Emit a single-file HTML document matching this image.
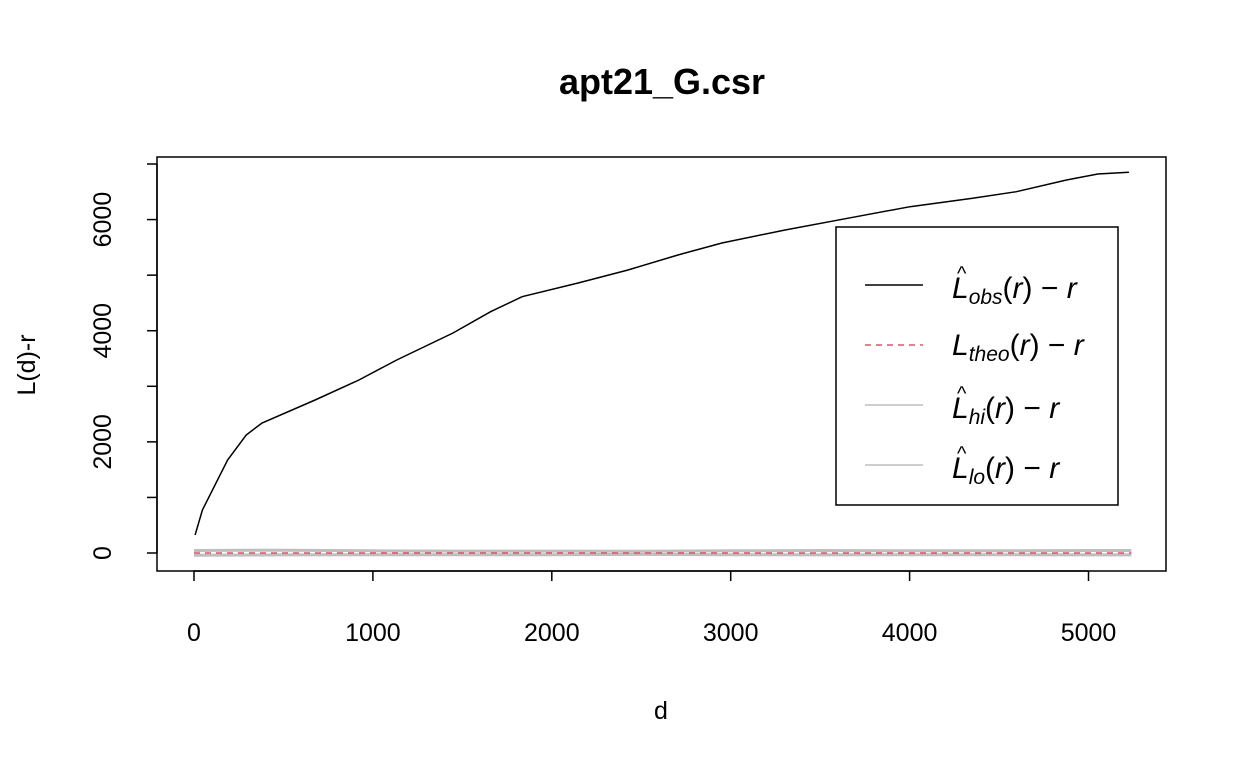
<!DOCTYPE html>
<html><head><meta charset="utf-8"><style>
body{margin:0;background:#fff}
svg text{font-family:"Liberation Sans",Arial,sans-serif}
</style></head><body>
<svg id="chart" width="1248" height="768" viewBox="0 0 1248 768" xmlns="http://www.w3.org/2000/svg">
<rect width="1248" height="768" fill="#fff"/>
<text x="662" y="94" text-anchor="middle" font-size="36" font-weight="bold">apt21_G.csr</text>
<text x="661" y="719" text-anchor="middle" font-size="25">d</text>
<text transform="translate(35,365) rotate(-90)" text-anchor="middle" font-size="25">L(d)-r</text>
<g id="series"></g>
<g id="axes"></g>
<rect x="157" y="157" width="1009" height="414" fill="none" stroke="#000" stroke-width="1.5"/>
<g>
<rect x="836" y="227" width="282" height="278" fill="#fff" stroke="#000" stroke-width="1.5"/>
<line x1="865" y1="285" x2="923" y2="285" stroke="#000" stroke-width="1.5"/>
<line x1="865" y1="345" x2="923" y2="345" stroke="#DF536B" stroke-width="1.5" stroke-dasharray="6,5"/>
<line x1="865" y1="405" x2="923" y2="405" stroke="#BEBEBE" stroke-width="1.5"/>
<line x1="865" y1="465" x2="923" y2="465" stroke="#BEBEBE" stroke-width="1.5"/>
<g font-size="30" font-style="italic">
<text x="952" y="298"><tspan x="957" y="280" font-size="20" font-style="normal">^</tspan><tspan x="952" y="298">L</tspan><tspan font-size="21" dy="6">obs</tspan><tspan dy="-6" font-style="normal">(</tspan>r<tspan font-style="normal">)</tspan><tspan font-style="normal"> − </tspan>r</text>
<text x="952" y="355">L<tspan font-size="21" dy="6">theo</tspan><tspan dy="-6" font-style="normal">(</tspan>r<tspan font-style="normal">)</tspan><tspan font-style="normal"> − </tspan>r</text>
<text x="952" y="418"><tspan x="957" y="400" font-size="20" font-style="normal">^</tspan><tspan x="952" y="418">L</tspan><tspan font-size="21" dy="6">hi</tspan><tspan dy="-6" font-style="normal">(</tspan>r<tspan font-style="normal">)</tspan><tspan font-style="normal"> − </tspan>r</text>
<text x="952" y="478"><tspan x="957" y="460" font-size="20" font-style="normal">^</tspan><tspan x="952" y="478">L</tspan><tspan font-size="21" dy="6">lo</tspan><tspan dy="-6" font-style="normal">(</tspan>r<tspan font-style="normal">)</tspan><tspan font-style="normal"> − </tspan>r</text>
</g>
</g>
</svg>
<script>
const obsD = [6,47,188,292,380,677,922,1133,1448,1658,1834,2147,2426,2705,2951,3304,3653,4002,4352,4597,4877,5052,5226];
const obsV = [324,774,1674,2123,2340,2753,3113,3473,3959,4342,4612,4858,5093,5363,5579,5812,6023,6232,6383,6502,6712,6820,6851];
const envD = [0,500,1000,1500,2000,2500,3000,3500,4000,4500,5000,5240];
const hiV = [45,50,40,35,35,30,40,45,40,40,45,45];
const loV = [-40,-35,-30,-30,-30,-25,-30,-35,-30,-30,-35,-35];
const xTicks = [0,1000,2000,3000,4000,5000];
const yTicks = [0,1000,2000,3000,4000,5000,6000,7000];
const yLabels = ["0","","2000","","4000","","6000",""];

const NS = "http://www.w3.org/2000/svg";
const X = d => 194 + d * 0.1789;
const Y = v => 553 - v * 0.05557;
const ser = document.getElementById('series');
const ax = document.getElementById('axes');
function mk(tag, attrs, parent){const e=document.createElementNS(NS,tag);for(const k in attrs)e.setAttribute(k,attrs[k]);parent.appendChild(e);return e;}
function pts(ds, vs){return ds.map((d,i)=>X(d).toFixed(1)+','+Y(vs[i]).toFixed(1)).join(' ');}

let e = mk('polyline',{points:pts(envD,hiV),fill:'none',stroke:'#BEBEBE','stroke-width':3},ser);


e = mk('polyline',{points:pts(envD,loV),fill:'none',stroke:'#BEBEBE','stroke-width':3},ser);


e = mk('line',{x1:X(0),y1:Y(0),x2:X(5240),y2:Y(0),stroke:'#DF536B','stroke-width':1.5,'stroke-dasharray':'6,5'},ser);


e = mk('polyline',{points:pts(obsD,obsV),fill:'none',stroke:'#000','stroke-width':1.5},ser);



mk('line',{x1:X(0),y1:571,x2:X(5000),y2:571,stroke:'#000','stroke-width':1.5},ax);
xTicks.forEach(t=>{
  const l=mk('line',{x1:X(t),y1:571,x2:X(t),y2:581,stroke:'#000','stroke-width':1.5},ax);
  
  
  const tx=mk('text',{x:X(t),y:641,'text-anchor':'middle','font-size':'25'},ax);
  tx.textContent=String(t);
  
  
});
mk('line',{x1:157,y1:Y(0),x2:157,y2:Y(7000),stroke:'#000','stroke-width':1.5},ax);
yTicks.forEach((t,i)=>{
  const l=mk('line',{x1:147,y1:Y(t),x2:157,y2:Y(t),stroke:'#000','stroke-width':1.5},ax);
  
  
  if(yLabels[i]){
    const tx=mk('text',{transform:`translate(111,${Y(t)}) rotate(-90)`,'text-anchor':'middle','font-size':'25'},ax);
    tx.textContent=yLabels[i];
    
    
  }
});
</script>
</body></html>
